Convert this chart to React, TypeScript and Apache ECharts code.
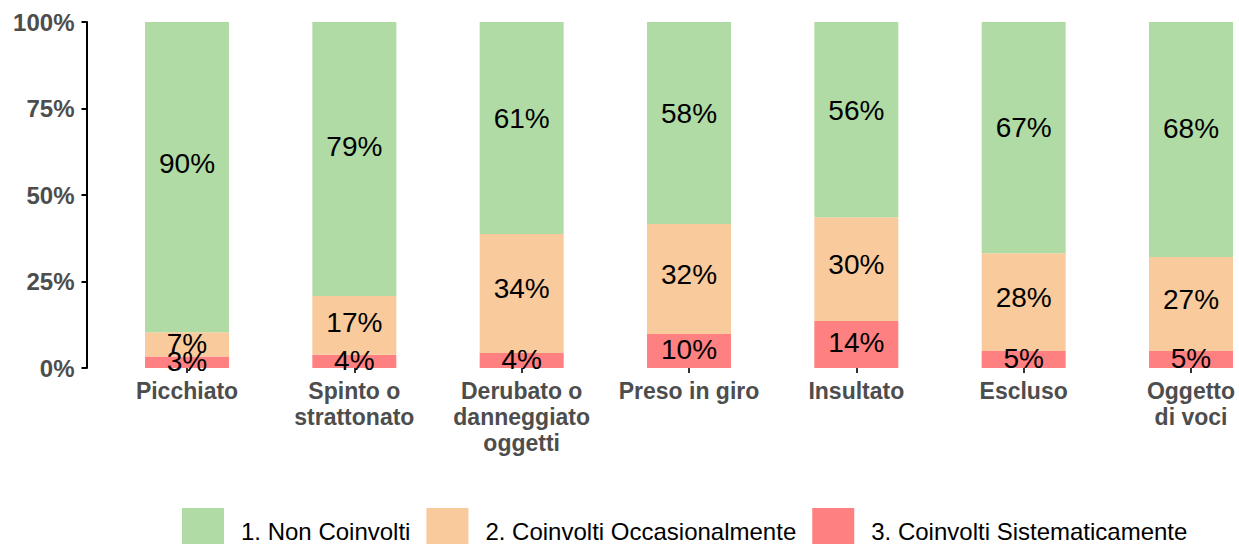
import React, { useEffect, useRef } from "react";
import * as echarts from "echarts";

const categories = [
  "Picchiato",
  "Spinto o\nstrattonato",
  "Derubato o\ndanneggiato\noggetti",
  "Preso in giro",
  "Insultato",
  "Escluso",
  "Oggetto\ndi voci",
];
const nonCoinvolti = [89.7, 79.2, 61.3, 58.4, 56.4, 66.8, 67.9];
const occasionalmente = [7.0, 17.0, 34.4, 31.8, 30.0, 28.3, 27.2];
const sistematicamente = [3.3, 3.8, 4.3, 9.8, 13.6, 4.9, 4.9];
const seriesNames = [
  "1. Non Coinvolti",
  "2. Coinvolti Occasionalmente",
  "3. Coinvolti Sistematicamente",
];
const colors = ["#b0dba4", "#f9ca9b", "#ff8080"];
const yTicks = [0, 25, 50, 75, 100];

const FONT = "'Liberation Sans', Arial, Helvetica, sans-serif";

export default function App() {
  const ref = useRef<HTMLDivElement>(null);
  useEffect(() => {
    if (!ref.current) return;
    const chart = echarts.init(ref.current, undefined, { renderer: "svg" });
    const label = {
      show: true,
      position: ["50%", "45.5%"],
      align: "center",
      verticalAlign: "middle",
      fontSize: 28,
      fontFamily: FONT,
      color: "#000",
      formatter: (p: any) => Math.round(p.value) + "%",
    };
    const mk = (name: string, data: number[], color: string) => ({
      name,
      type: "bar",
      stack: "total",
      data,
      barWidth: 84,
      clip: false,
      itemStyle: { color },
      label,
    });
    chart.setOption({
      animation: false,
      textStyle: { fontFamily: FONT },
      grid: { left: 187, top: 22, width: 1004, height: 346 },
      legend: {
        data: seriesNames,
        left: 182,
        top: 508,
        padding: 0,
        icon: "rect",
        itemWidth: 42,
        itemHeight: 46,
        itemGap: 16,
        textStyle: {
          fontSize: 24,
          fontFamily: FONT,
          color: "#000",
          padding: [0, 0, 0, 12],
        },
      },
      xAxis: {
        type: "category",
        data: categories,
        boundaryGap: false,
        splitLine: { show: false },
        axisLine: { show: false },
        axisTick: {
          show: true,
          interval: 0,
          length: 5,
          lineStyle: { color: "#333", width: 2 },
        },
        axisLabel: {
          interval: 0,
          fontSize: 23,
          fontWeight: "bold",
          color: "#4d4d4d",
          lineHeight: 26,
          margin: 10,
          fontFamily: FONT,
        },
      },
      yAxis: {
        type: "value",
        min: yTicks[0],
        max: yTicks[yTicks.length - 1],
        interval: 25,
        offset: 100.5,
        splitLine: { show: false },
        axisLine: { show: true, onZero: false, lineStyle: { color: "#000", width: 2 } },
        axisTick: { show: true, length: 5, lineStyle: { color: "#000", width: 2 } },
        axisLabel: {
          formatter: "{value}%",
          fontSize: 24,
          fontWeight: "bold",
          color: "#4d4d4d",
          margin: 12,
          fontFamily: FONT,
        },
      },
      series: [
        mk(seriesNames[2], sistematicamente, colors[2]),
        mk(seriesNames[1], occasionalmente, colors[1]),
        mk(seriesNames[0], nonCoinvolti, colors[0]),
      ],
    });
    return () => chart.dispose();
  }, []);
  return (
    <div
      ref={ref}
      style={{ position: "absolute", left: 0, top: 0, width: 1239, height: 544, background: "#fff" }}
    />
  );
}
